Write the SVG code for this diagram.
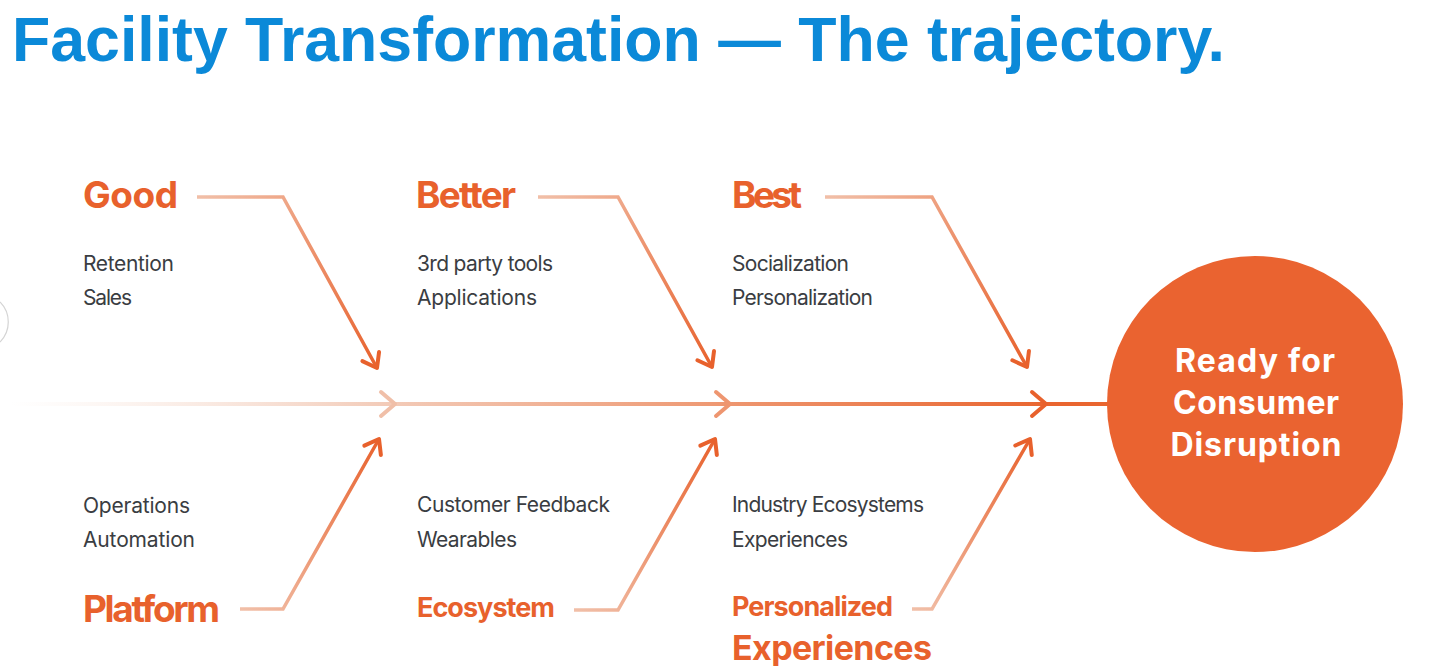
<svg xmlns="http://www.w3.org/2000/svg" width="1436" height="666" viewBox="0 0 1436 666">
  <style>
    .title { font-family: "Liberation Sans", Arial, sans-serif; font-weight: bold; font-size: 63px; fill: #0B89D8; }
    .lbl { font-family: "Inter", "Liberation Sans", sans-serif; font-weight: bold; fill: #E8612C; }
    .big { font-size: 37px; }
    .mid { font-size: 27px; }
    .item { font-family: "Inter", "Liberation Sans", sans-serif; font-size: 21px; fill: #3A3D42; }
    .ctext { font-family: "Inter", "Liberation Sans", sans-serif; font-weight: bold; font-size: 32px; fill: #FFFFFF; }
    .branch { fill: none; stroke-width: 3.5; stroke-linejoin: miter; stroke-linecap: butt; }
    .chev { fill: none; stroke-width: 4; stroke-linecap: round; stroke-linejoin: round; }
  </style>
  <defs>
    <marker id="ah" markerUnits="userSpaceOnUse" orient="auto" overflow="visible" markerWidth="1" markerHeight="1" refX="0" refY="0">
      <path d="M-13,-9.5 L0,0 L-13,9.5" fill="none" stroke="#E8612C" stroke-width="4" stroke-linecap="round" stroke-linejoin="round"/>
    </marker>
    <linearGradient id="spine" gradientUnits="userSpaceOnUse" x1="10" y1="0" x2="1050" y2="0">
      <stop offset="0" stop-color="#F7E3D9" stop-opacity="0"/>
      <stop offset="0.35" stop-color="#F3CDBB"/>
      <stop offset="0.68" stop-color="#EE9872"/>
      <stop offset="1" stop-color="#E9652F"/>
    </linearGradient>
    <linearGradient id="gGood" gradientUnits="userSpaceOnUse" x1="197" y1="197" x2="378" y2="370">
      <stop offset="0" stop-color="#F1BFA8"/>
      <stop offset="1" stop-color="#E8612C"/>
    </linearGradient>
    <linearGradient id="gBetter" gradientUnits="userSpaceOnUse" x1="538" y1="197" x2="713" y2="369">
      <stop offset="0" stop-color="#F1BFA8"/>
      <stop offset="1" stop-color="#E8612C"/>
    </linearGradient>
    <linearGradient id="gBest" gradientUnits="userSpaceOnUse" x1="825" y1="197" x2="1028" y2="369">
      <stop offset="0" stop-color="#F1BFA8"/>
      <stop offset="1" stop-color="#E8612C"/>
    </linearGradient>
    <linearGradient id="gPlat" gradientUnits="userSpaceOnUse" x1="240" y1="609" x2="380" y2="437">
      <stop offset="0" stop-color="#F1BFA8"/>
      <stop offset="1" stop-color="#E8612C"/>
    </linearGradient>
    <linearGradient id="gEco" gradientUnits="userSpaceOnUse" x1="574" y1="610" x2="716" y2="437">
      <stop offset="0" stop-color="#F1BFA8"/>
      <stop offset="1" stop-color="#E8612C"/>
    </linearGradient>
    <linearGradient id="gPers" gradientUnits="userSpaceOnUse" x1="912" y1="609" x2="1031" y2="437">
      <stop offset="0" stop-color="#F1BFA8"/>
      <stop offset="1" stop-color="#E8612C"/>
    </linearGradient>
  </defs>

  <rect x="0" y="0" width="1436" height="666" fill="#FFFFFF"/>

  <!-- faint edge arc at left -->
  <path d="M0,302 A28.3,28.3 0 0 1 0,342" fill="none" stroke="#D4D4D4" stroke-width="1.2"/>

  <text class="title" x="12" y="61" textLength="1213" lengthAdjust="spacingAndGlyphs">Facility Transformation — The trajectory.</text>

  <g id="connectors">
    <line x1="10" y1="404" x2="1110" y2="404" stroke="url(#spine)" stroke-width="4"/>
    <polyline class="chev" points="381,392 395,404 381,416" stroke="#F0BFA8"/>
    <polyline class="chev" points="716,392 730,404 716,416" stroke="#EE9670"/>
    <polyline class="chev" points="1032,392 1046,404 1032,416" stroke="#E8612C"/>

    <path class="branch" d="M197,197 L283,197 L377,368" stroke="url(#gGood)" marker-end="url(#ah)"/>
    <path class="branch" d="M538,197 L618,197 L712,367" stroke="url(#gBetter)" marker-end="url(#ah)"/>
    <path class="branch" d="M825,197 L932,197 L1027,367" stroke="url(#gBest)" marker-end="url(#ah)"/>

    <path class="branch" d="M240,609 L283,609 L379,439" stroke="url(#gPlat)" marker-end="url(#ah)"/>
    <path class="branch" d="M574,610 L618,610 L715,439" stroke="url(#gEco)" marker-end="url(#ah)"/>
    <path class="branch" d="M912,609 L932,609 L1030,439" stroke="url(#gPers)" marker-end="url(#ah)"/>
  </g>

  <g id="good">
    <text class="lbl big" x="83" y="208" textLength="95">Good</text>
    <text class="item" x="83" y="271" textLength="91">Retention</text>
    <text class="item" x="83" y="305" textLength="49">Sales</text>
  </g>
  <g id="better">
    <text class="lbl big" x="416" y="208" textLength="100">Better</text>
    <text class="item" x="417" y="271" textLength="136">3rd party tools</text>
    <text class="item" x="417" y="305" textLength="120">Applications</text>
  </g>
  <g id="best">
    <text class="lbl big" x="732" y="208" textLength="70">Best</text>
    <text class="item" x="732" y="271" textLength="117">Socialization</text>
    <text class="item" x="732" y="305" textLength="141">Personalization</text>
  </g>
  <g id="platform">
    <text class="item" x="83" y="513" textLength="107">Operations</text>
    <text class="item" x="83" y="547" textLength="112">Automation</text>
    <text class="lbl big" x="83" y="622" textLength="137">Platform</text>
  </g>
  <g id="ecosystem">
    <text class="item" x="417" y="512" textLength="193">Customer Feedback</text>
    <text class="item" x="417" y="547" textLength="100">Wearables</text>
    <text class="lbl mid" x="417" y="617" textLength="138">Ecosystem</text>
  </g>
  <g id="personalized">
    <text class="item" x="732" y="512" textLength="192">Industry Ecosystems</text>
    <text class="item" x="732" y="547" textLength="116">Experiences</text>
    <text class="lbl mid" x="732" y="616" textLength="161">Personalized</text>
    <text class="lbl" x="732" y="660" font-size="34" textLength="200">Experiences</text>
  </g>
  <g id="ready">
    <circle cx="1255" cy="404" r="148" fill="#EA6330"/>
    <text class="ctext" x="1255" y="372" text-anchor="middle" textLength="160">Ready for</text>
    <text class="ctext" x="1256" y="414" text-anchor="middle" textLength="166">Consumer</text>
    <text class="ctext" x="1256" y="456" text-anchor="middle" textLength="171">Disruption</text>
  </g>
</svg>
